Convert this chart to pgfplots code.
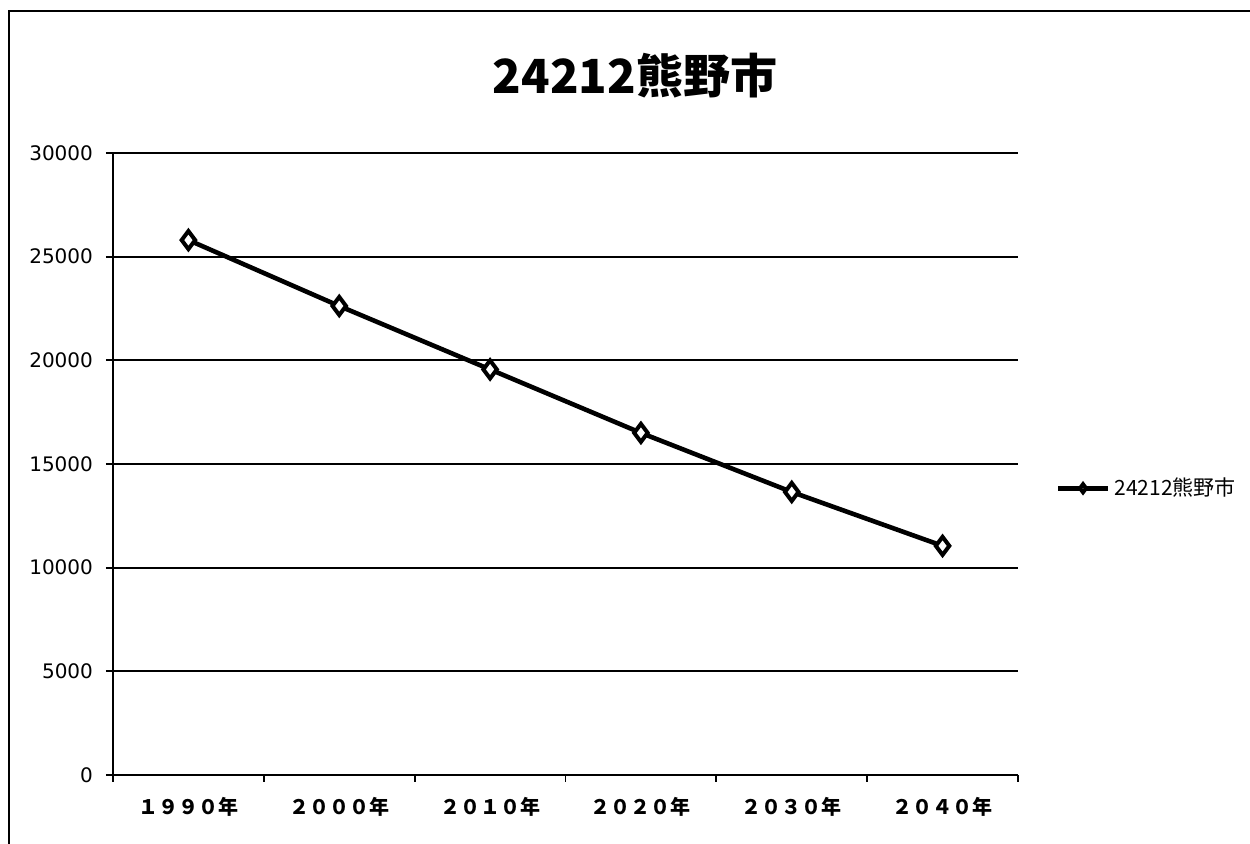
\documentclass[border=0pt]{standalone}
\usepackage{fontspec}
\setmainfont{DejaVu Sans}
\newfontfamily\jp{Noto Sans CJK JP}
\usepackage{pgfplots}
\pgfplotsset{compat=1.18}
\begin{document}
\begin{tikzpicture}
\path[use as bounding box] (0,0) rectangle (625pt,422pt);
\draw[line width=0.9pt] (4.5pt,0pt) -- (4.5pt,416.5pt) -- (625pt,416.5pt);
\node[font=\jp\bfseries\fontsize{23.5}{27}\selectfont] at (317.5pt,384pt) {24212熊野市};
\begin{axis}[
  at={(56.5pt,34.5pt)}, anchor=south west,
  scale only axis, width=452.5pt, height=311pt,
  xmin=-0.5, xmax=5.5, ymin=0, ymax=30000,
  axis x line*=bottom, axis y line*=left,
  axis line style={line width=0.9pt,-},
  xtick={-0.5,0.5,...,5.5},
  x tick label as interval,
  xticklabels={１９９０年,２０００年,２０１０年,２０２０年,２０３０年,２０４０年},
  xticklabel style={font=\jp\bfseries\fontsize{10}{11}\selectfont, yshift=-4pt},
  ytick={0,5000,...,30000},
  yticklabel style={font=\fontsize{10}{11}\selectfont, xshift=-3pt},
  /pgf/number format/assume math mode=true,
  scaled y ticks=false,
  yticklabel={\pgfmathprintnumber[fixed,1000 sep={}]{\tick}},
  tick align=outside,
  major tick length=3.5pt,
  tick style={black, line width=0.9pt},
  ymajorgrids,
  grid style={black, line width=0.9pt},
  legend style={at={(1.041,0.461)}, anchor=west, draw=none, fill=none,
    inner sep=0pt, font=\jp\fontsize{10.5}{12}\selectfont},
  legend cell align=left,
  legend image code/.code={\draw[#1, mark=none, line width=2.5pt] (0pt,0pt) -- (25pt,0pt);
     \draw[#1, mark repeat=3, mark phase=2, mark size=2pt] plot coordinates {(0pt,0pt)(12.5pt,0pt)(25pt,0pt)};},
]
\addplot[black, line width=2.3pt, mark=diamond*, mark size=4.5pt,
  mark options={fill=white, line width=2pt, solid}]
  coordinates {(0,25800) (1,22620) (2,19560) (3,16500) (4,13650) (5,11050)};
\addlegendentry{24212熊野市}
\end{axis}
\end{tikzpicture}
\end{document}
